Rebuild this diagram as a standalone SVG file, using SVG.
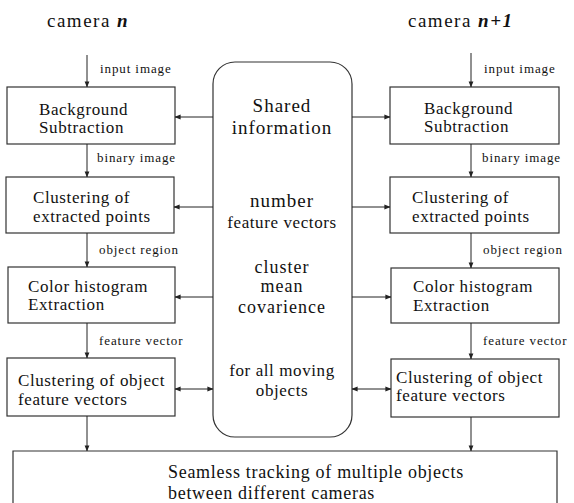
<svg xmlns="http://www.w3.org/2000/svg" width="574" height="503" viewBox="0 0 574 503">
<defs>
<marker id="ah" viewBox="0 0 8 8" refX="7.5" refY="4" markerWidth="6" markerHeight="6" orient="auto-start-reverse" markerUnits="userSpaceOnUse">
<path d="M0,0.8 L8,4 L0,7.2 Z" fill="#222"/>
</marker>
</defs>
<style>
.box{fill:#fff;stroke:#333;stroke-width:1.2}
.ln{stroke:#222;stroke-width:1;fill:none}
.bt{font-family:"Liberation Serif",serif;font-size:17px;fill:#111;letter-spacing:0.6px}
.lb{font-family:"Liberation Serif",serif;font-size:13px;fill:#111;letter-spacing:0.9px}
.st{font-family:"Liberation Serif",serif;font-size:19px;fill:#111;text-anchor:middle;letter-spacing:1px}
.ti{font-family:"Liberation Serif",serif;font-size:19px;fill:#111;letter-spacing:1.5px}
.bi{font-weight:bold;font-style:italic}
</style>
<rect width="574" height="503" fill="#fff"/>
<g id="titles">
<text class="ti" x="47" y="27">camera <tspan class="bi">n</tspan></text>
<text class="ti" x="408" y="27">camera <tspan class="bi">n+1</tspan></text>
</g>
<g id="shared">
<rect class="box" x="213" y="62" width="139" height="375" rx="22" ry="22"/>
<text class="st" x="282" y="112">Shared</text>
<text class="st" x="282" y="134">information</text>
<text class="st" x="282" y="207">number</text>
<text class="st" x="282" y="228" style="font-size:17px;letter-spacing:0.6px">feature vectors</text>
<text class="st" x="282" y="273" style="font-size:18px">cluster</text>
<text class="st" x="282" y="292" style="font-size:18px">mean</text>
<text class="st" x="282" y="313" style="font-size:18px">covarience</text>
<text class="st" x="282" y="376" style="font-size:17px;letter-spacing:0.6px">for all moving</text>
<text class="st" x="282" y="396" style="font-size:17px;letter-spacing:0.6px">objects</text>
</g>
<g id="left-bg"><rect class="box" x="7" y="87" width="168" height="57"/><text class="bt" x="39" y="115">Background</text><text class="bt" x="39" y="133">Subtraction</text></g>
<g id="left-cl"><rect class="box" x="6" y="177" width="168" height="56"/><text class="bt" x="33" y="203">Clustering of</text><text class="bt" x="33" y="222">extracted points</text></g>
<g id="left-ch"><rect class="box" x="8" y="267" width="167" height="56"/><text class="bt" x="28" y="292">Color histogram</text><text class="bt" x="28" y="310">Extraction</text></g>
<g id="left-co"><rect class="box" x="7" y="358" width="168" height="58"/><text class="bt" x="18" y="386">Clustering of object</text><text class="bt" x="18" y="405">feature vectors</text></g>
<g id="right-bg"><rect class="box" x="390" y="87" width="169" height="57"/><text class="bt" x="424" y="114">Background</text><text class="bt" x="424" y="132">Subtraction</text></g>
<g id="right-cl"><rect class="box" x="390" y="177" width="169" height="56"/><text class="bt" x="412" y="203">Clustering of</text><text class="bt" x="412" y="222">extracted points</text></g>
<g id="right-ch"><rect class="box" x="391" y="268" width="168" height="55"/><text class="bt" x="413" y="292">Color histogram</text><text class="bt" x="413" y="311">Extraction</text></g>
<g id="right-co"><rect class="box" x="391" y="359" width="168" height="58"/><text class="bt" x="396" y="383">Clustering of object</text><text class="bt" x="396" y="401">feature vectors</text></g>
<g id="bottom"><path class="box" d="M13,503 V451 H557 V503"/>
<text class="bt" x="168" y="478" style="font-size:18px;letter-spacing:0.7px">Seamless tracking of multiple objects</text>
<text class="bt" x="168" y="499" style="font-size:18px;letter-spacing:0.7px">between different cameras</text></g>
<g id="connectors">
<line class="ln" x1="87" y1="55" x2="87" y2="87" marker-end="url(#ah)"/>
<line class="ln" x1="87" y1="144" x2="87" y2="177" marker-end="url(#ah)"/>
<line class="ln" x1="87" y1="233" x2="87" y2="267" marker-end="url(#ah)"/>
<line class="ln" x1="87" y1="323" x2="87" y2="358" marker-end="url(#ah)"/>
<line class="ln" x1="87" y1="416" x2="87" y2="451" marker-end="url(#ah)"/>
<line class="ln" x1="471" y1="53" x2="471" y2="87" marker-end="url(#ah)"/>
<line class="ln" x1="471" y1="144" x2="471" y2="177" marker-end="url(#ah)"/>
<line class="ln" x1="471" y1="233" x2="471" y2="268" marker-end="url(#ah)"/>
<line class="ln" x1="471" y1="323" x2="471" y2="359" marker-end="url(#ah)"/>
<line class="ln" x1="471" y1="417" x2="471" y2="451" marker-end="url(#ah)"/>
<line class="ln" x1="213" y1="117" x2="175" y2="117" marker-end="url(#ah)"/>
<line class="ln" x1="213" y1="207" x2="174" y2="207" marker-end="url(#ah)"/>
<line class="ln" x1="213" y1="297" x2="175" y2="297" marker-end="url(#ah)"/>
<line class="ln" x1="175" y1="389" x2="213" y2="389" marker-start="url(#ah)" marker-end="url(#ah)"/>
<line class="ln" x1="352" y1="117" x2="390" y2="117" marker-end="url(#ah)"/>
<line class="ln" x1="352" y1="207" x2="390" y2="207" marker-end="url(#ah)"/>
<line class="ln" x1="352" y1="297" x2="391" y2="297" marker-end="url(#ah)"/>
<line class="ln" x1="352" y1="389" x2="391" y2="389" marker-start="url(#ah)" marker-end="url(#ah)"/>
</g>
<g id="labels">
<text class="lb" x="100" y="73">input image</text>
<text class="lb" x="97" y="162">binary image</text>
<text class="lb" x="99" y="254">object region</text>
<text class="lb" x="99" y="345">feature vector</text>
<text class="lb" x="484" y="73">input image</text>
<text class="lb" x="482" y="162">binary image</text>
<text class="lb" x="483" y="254">object region</text>
<text class="lb" x="483" y="345">feature vector</text>
</g>
</svg>
